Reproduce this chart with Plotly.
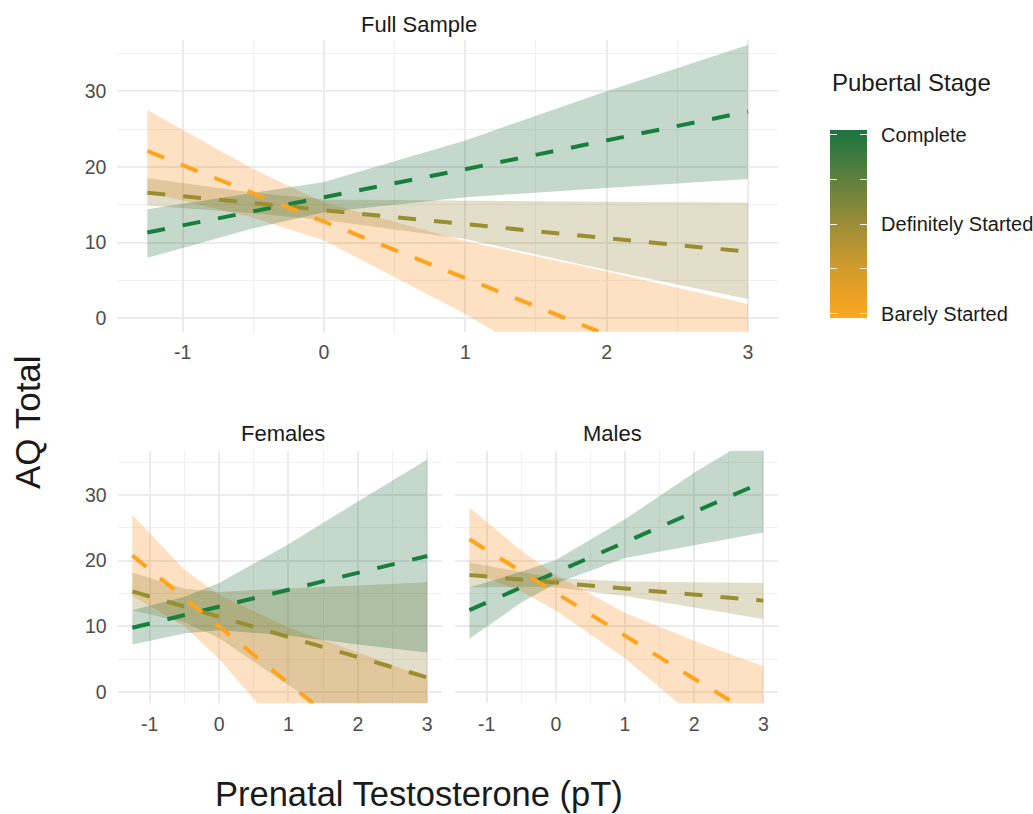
import plotly.graph_objects as go

W, H = 1033, 814

# ---------------- data ----------------
x_pts = [-1.25, -0.5, 0, 1, 2, 3]

stages = ["Complete", "Definitely Started", "Barely Started"]

# Full sample
full_complete_fit = [11.35, 14.2, 16.0, 19.7, 23.5, 27.3]
full_complete_lo = [8.0, 11.9, 14.0, 16.0, 17.2, 18.4]
full_complete_hi = [14.4, 16.6, 18.0, 23.5, 30.0, 36.1]
full_definite_fit = [16.6, 15.2, 14.3, 12.5, 10.6, 8.8]
full_definite_lo = [14.9, 13.9, 13.0, 10.5, 6.4, 2.55]
full_definite_hi = [18.5, 16.6, 15.7, 15.5, 15.4, 15.3]
full_barely_fit = [22.1, 16.5, 12.8, 5.3, -2.2, -9.6]
full_barely_lo = [16.7, 13.3, 10.3, 0.6, -10.6, -21.1]
full_barely_hi = [27.5, 19.7, 15.3, 10.2, 6.2, 1.9]

# Females
fem_complete_fit = [9.77, 11.7, 13.0, 15.55, 18.1, 20.7]
fem_complete_lo = [7.2, 8.9, 9.4, 8.6, 7.2, 6.0]
fem_complete_hi = [12.45, 14.5, 16.6, 22.5, 29.0, 35.4]
fem_definite_fit = [15.3, 13.0, 11.45, 8.4, 5.3, 2.2]
fem_definite_lo = [12.4, 10.6, 8.2, 1.0, -5.6, -12.3]
fem_definite_hi = [18.2, 15.7, 15.2, 15.8, 16.2, 16.7]
fem_barely_fit = [20.8, 14.3, 10.0, 1.3, -7.3, -16.0]
fem_barely_lo = [14.6, 10.0, 5.0, -7.2, -20.6, -34.3]
fem_barely_hi = [27.0, 18.6, 14.8, 9.8, 6.0, 2.1]

# Males
male_complete_fit = [12.45, 15.9, 18.2, 22.8, 27.4, 32.0]
male_complete_lo = [8.1, 13.6, 16.5, 20.4, 22.4, 24.3]
male_complete_hi = [15.9, 18.3, 20.1, 26.3, 33.4, 39.7]
male_definite_fit = [17.8, 17.1, 16.66, 15.75, 14.85, 13.9]
male_definite_lo = [15.9, 16.0, 15.9, 14.6, 12.9, 11.1]
male_definite_hi = [19.7, 18.2, 17.3, 16.8, 16.7, 16.6]
male_barely_fit = [23.25, 18.4, 15.1, 8.56, 2.0, -4.4]
male_barely_lo = [18.4, 15.3, 12.4, 5.1, -3.8, -12.7]
male_barely_hi = [28.1, 21.5, 17.8, 12.0, 7.8, 3.9]

panel_titles = ["Full Sample", "Females", "Males"]
x_ticks = [-1, 0, 1, 2, 3]
x_tick_text = ["-1", "0", "1", "2", "3"]
x_minor = [-0.5, 0.5, 1.5, 2.5]
y_ticks = [0, 10, 20, 30]
y_minor = [5, 15, 25, 35]
legend_ticks = [1, 1.5, 2, 2.5, 3]
legend_labels = ["Barely Started", "", "Definitely Started", "", "Complete"]

# ---------------- style ----------------
line_colors = {"Complete": "#17803D", "Definitely Started": "#9A8F30", "Barely Started": "#FFA41B"}
ribbon_colors = {"Complete": "rgba(25,100,50,0.25)",
                 "Definitely Started": "rgba(140,125,40,0.25)",
                 "Barely Started": "rgba(250,140,30,0.27)"}
FONT = "Liberation Sans, Arial, Helvetica, sans-serif"

panels = {
    "full": ("x", "y", {
        "Complete": (full_complete_fit, full_complete_lo, full_complete_hi),
        "Definitely Started": (full_definite_fit, full_definite_lo, full_definite_hi),
        "Barely Started": (full_barely_fit, full_barely_lo, full_barely_hi),
    }),
    "fem": ("x2", "y2", {
        "Complete": (fem_complete_fit, fem_complete_lo, fem_complete_hi),
        "Definitely Started": (fem_definite_fit, fem_definite_lo, fem_definite_hi),
        "Barely Started": (fem_barely_fit, fem_barely_lo, fem_barely_hi),
    }),
    "male": ("x3", "y3", {
        "Complete": (male_complete_fit, male_complete_lo, male_complete_hi),
        "Definitely Started": (male_definite_fit, male_definite_lo, male_definite_hi),
        "Barely Started": (male_barely_fit, male_barely_lo, male_barely_hi),
    }),
}

fig = go.Figure()

draw_order = ["Barely Started", "Definitely Started", "Complete"]
for key, (xa, ya, series) in panels.items():
    for st in draw_order:
        fit, lo, hi = series[st]
        fig.add_trace(go.Scatter(
            x=x_pts + x_pts[::-1], y=hi + lo[::-1], xaxis=xa, yaxis=ya,
            mode="lines", fill="toself", fillcolor=ribbon_colors[st],
            line=dict(width=0), hoverinfo="skip", showlegend=False))
    for st in ["Complete", "Definitely Started", "Barely Started"]:
        fit, lo, hi = series[st]
        fig.add_trace(go.Scatter(
            x=x_pts, y=fit, xaxis=xa, yaxis=ya, mode="lines",
            line=dict(color=line_colors[st], width=4, dash="18px,18px"),
            name=st, showlegend=False))

# colour bar legend
cmin, cmax = 0.95, 3.05
colorscale = [[0, "#FFA621"], [0.25, "#D59C2B"], [0.5, "#9C8D38"], [0.75, "#5C7F3F"], [1, "#1B7541"]]
cb_left_px, cb_top_px, cb_bot_px, cb_thick_px = 830, 130, 318.3, 37.3
pad = "\u00a0\u2009"


def colorbar_trace(left_px, thick_px, labels):
    return go.Scatter(
        x=[-10, -10], y=[-10, -10], xaxis="x", yaxis="y", mode="markers",
        marker=dict(color=[cmin, cmax], cmin=cmin, cmax=cmax, colorscale=colorscale, opacity=0, size=1,
                    showscale=True,
                    colorbar=dict(
                        x=left_px / W, xanchor="left", xpad=0, ypad=0,
                        y=1 - (cb_top_px + cb_bot_px) / 2 / H, yanchor="middle",
                        lenmode="pixels", len=cb_bot_px - cb_top_px,
                        thicknessmode="pixels", thickness=thick_px,
                        outlinewidth=0, tickvals=legend_ticks,
                        ticktext=[pad + t if t else "" for t in legend_labels],
                        showticklabels=labels,
                        ticks="inside", ticklen=7, tickcolor="rgba(255,255,255,0.9)", tickwidth=1,
                        tickfont=dict(size=20, color="#1a1a1a", family=FONT))),
        hoverinfo="skip", showlegend=False)


fig.add_trace(colorbar_trace(cb_left_px, cb_thick_px, True))
# narrow overlay at the bar's left edge, so the white ticks appear on both sides
fig.add_trace(colorbar_trace(cb_left_px, 7, False))

grid = "#EBEBEB"
tickfont = dict(size=19.5, color="#4D4D4D", family=FONT)


def xaxis(domain, anchor):
    return dict(domain=domain, anchor=anchor, range=[-1.4625, 3.2125],
                tickvals=x_ticks, ticktext=x_tick_text,
                showgrid=True, gridcolor=grid, gridwidth=1.5, zeroline=False, showline=False,
                ticks="outside", ticklen=3, tickcolor="rgba(0,0,0,0)", tickfont=tickfont,
                minor=dict(tickvals=x_minor, showgrid=True, gridcolor="#F0F0F0", gridwidth=1, ticks=""),
                fixedrange=True)


def yaxis(domain, anchor, labels=True):
    return dict(domain=domain, anchor=anchor, range=[-1.75, 36.75], tickvals=y_ticks,
                showgrid=True, gridcolor=grid, gridwidth=1.5, zeroline=False, showline=False,
                ticks="outside", ticklen=6, tickcolor="rgba(0,0,0,0)", tickfont=tickfont,
                showticklabels=labels,
                minor=dict(tickvals=y_minor, showgrid=True, gridcolor="#F0F0F0", gridwidth=1, ticks=""),
                fixedrange=True)


top_y = [1 - 331.7 / H, 1 - 40 / H]
bot_y = [1 - 703.3 / H, 1 - 450.7 / H]

annotations = [
    dict(text=panel_titles[0], x=419 / W, y=1 - 24 / H),
    dict(text=panel_titles[1], x=283 / W, y=1 - 433 / H),
    dict(text=panel_titles[2], x=612 / W, y=1 - 433 / H),
]
for a in annotations:
    a.update(xref="paper", yref="paper", showarrow=False, xanchor="center", yanchor="middle",
             font=dict(size=22, color="#1a1a1a", family=FONT))
annotations += [
    dict(text="AQ Total", x=27 / W, y=1 - 422 / H, textangle=-90, xref="paper", yref="paper",
         showarrow=False, xanchor="center", yanchor="middle",
         font=dict(size=35, color="#1a1a1a", family=FONT)),
    dict(text="Prenatal Testosterone (pT)", x=419 / W, y=1 - 794 / H, xref="paper", yref="paper",
         showarrow=False, xanchor="center", yanchor="middle",
         font=dict(size=34.5, color="#1a1a1a", family=FONT)),
    dict(text="Pubertal Stage", x=830 / W, y=1 - 82 / H, xref="paper", yref="paper",
         showarrow=False, xanchor="left", yanchor="middle",
         font=dict(size=24, color="#1a1a1a", family=FONT)),
]

fig.update_layout(
    width=W, height=H, margin=dict(l=0, r=0, t=0, b=0, autoexpand=False),
    paper_bgcolor="white", plot_bgcolor="white",
    font=dict(family=FONT),
    xaxis=xaxis([117.3 / W, 778 / W], "y"),
    yaxis=yaxis(top_y, "x"),
    xaxis2=xaxis([117.6 / W, 442 / W], "y2"),
    yaxis2=yaxis(bot_y, "x2"),
    xaxis3=xaxis([454.7 / W, 778 / W], "y3"),
    yaxis3=yaxis(bot_y, "x3", labels=False),
    annotations=annotations, showlegend=False,
)

fig.write_html("out.html", config={"displayModeBar": False},
               post_script="document.body.style.margin='0px';document.body.style.overflow='hidden';")
